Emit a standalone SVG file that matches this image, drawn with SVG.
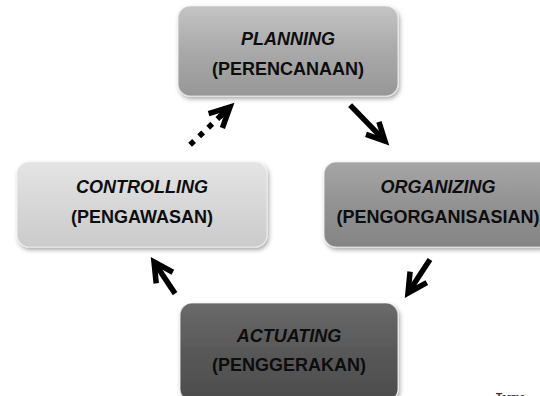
<svg xmlns="http://www.w3.org/2000/svg" width="540" height="396" viewBox="0 0 540 396">
<defs>
<linearGradient id="gP" x1="0" y1="0" x2="0" y2="1"><stop offset="0" stop-color="#c4c4c4"/><stop offset="0.5" stop-color="#a9a9a9"/><stop offset="1" stop-color="#979797"/></linearGradient>
<linearGradient id="gC" x1="0" y1="0" x2="0" y2="1"><stop offset="0" stop-color="#e4e4e4"/><stop offset="0.5" stop-color="#d7d7d7"/><stop offset="1" stop-color="#cbcbcb"/></linearGradient>
<linearGradient id="gO" x1="0" y1="0" x2="0" y2="1"><stop offset="0" stop-color="#a6a6a6"/><stop offset="0.5" stop-color="#929292"/><stop offset="1" stop-color="#848484"/></linearGradient>
<linearGradient id="gA" x1="0" y1="0" x2="0" y2="1"><stop offset="0" stop-color="#6a6a6a"/><stop offset="0.5" stop-color="#585858"/><stop offset="1" stop-color="#4c4c4c"/></linearGradient>
<filter id="sh" x="-10%" y="-10%" width="125%" height="130%"><feDropShadow dx="1.5" dy="2.5" stdDeviation="2" flood-color="#000" flood-opacity="0.35"/></filter>
</defs>
<style>
.box{stroke:#f2f2f2;stroke-opacity:0.7;stroke-width:1.2;filter:url(#sh)}
.t{font-family:"Liberation Sans",Arial,sans-serif;font-size:18px;font-weight:bold;fill:#0d0d0d;text-anchor:middle}
.i{font-style:italic}
.ar{fill:none;stroke:#000;stroke-width:5.5}
.hd{fill:none;stroke:#000;stroke-width:5.5;stroke-linejoin:miter;stroke-miterlimit:10}
.dot{fill:none;stroke:#000;stroke-width:5.5;stroke-dasharray:5.5 7}
</style>
<g id="planning">
<rect class="box" x="178" y="6" width="220" height="90" rx="12" fill="url(#gP)"/>
<text class="t i" x="288" y="45">PLANNING</text>
<text class="t" x="288" y="75">(PERENCANAAN)</text>
</g>
<g id="controlling">
<rect class="box" x="17" y="162" width="250" height="85" rx="12" fill="url(#gC)"/>
<text class="t i" x="142" y="193">CONTROLLING</text>
<text class="t" x="142" y="223">(PENGAWASAN)</text>
</g>
<g id="organizing">
<rect class="box" x="324" y="162" width="228" height="85" rx="12" fill="url(#gO)"/>
<text class="t i" x="438" y="193">ORGANIZING</text>
<text class="t" x="438" y="223">(PENGORGANISASIAN)</text>
</g>
<g id="actuating">
<rect class="box" x="180" y="303" width="218" height="98" rx="12" fill="url(#gA)"/>
<text class="t i" x="289" y="342">ACTUATING</text>
<text class="t" x="289" y="371">(PENGGERAKAN)</text>
</g>
<g id="connectors">
<g transform="translate(385,141) rotate(45.8)">
<path class="ar" d="M-50,0 L-3,0"/>
<path class="hd" d="M-18,-9 L0,0 L-18,9"/>
</g>
<g transform="translate(408,293) rotate(123.3)">
<path class="ar" d="M-40,0 L-3,0"/>
<path class="hd" d="M-19,-10 L0,0 L-19,10"/>
</g>
<g transform="translate(154,262) rotate(-123.7)">
<path class="ar" d="M-38,0 L-3,0"/>
<path class="hd" d="M-19,-10 L0,0 L-19,10"/>
</g>
<g transform="translate(230,107) rotate(-43.5)">
<path class="dot" d="M-55,0 L-12,0"/>
<path class="ar" d="M-14,0 L-3,0"/>
<path class="hd" d="M-20,-10 L0,0 L-20,10"/>
</g>
</g>
<text x="496" y="401" font-family="Liberation Sans,Arial,sans-serif" font-size="10" font-weight="bold" fill="#333">Terms</text>
</svg>
